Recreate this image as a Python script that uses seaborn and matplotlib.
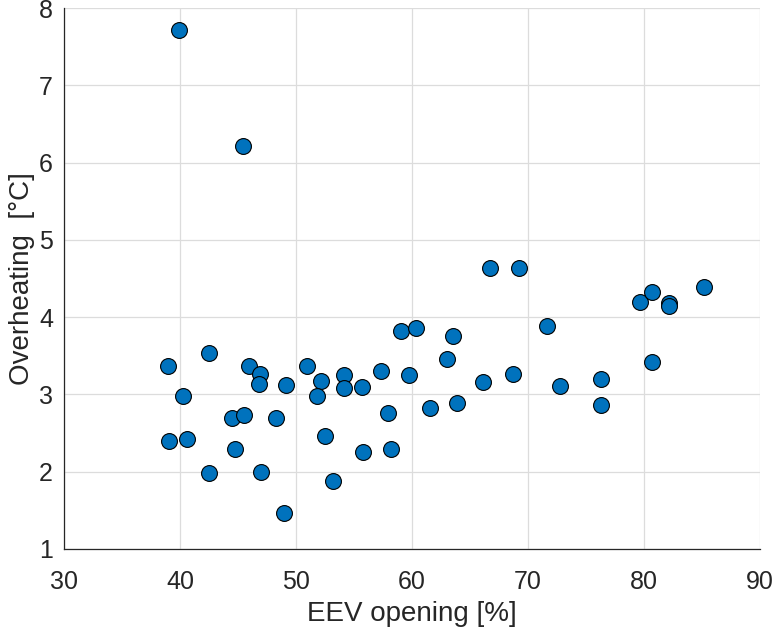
import matplotlib
matplotlib.use("Agg")
import matplotlib.pyplot as plt
import seaborn as sns
import pandas as pd

eev_opening = [39.93, 45.46, 38.95, 42.46, 45.98, 46.93, 46.78, 49.17, 50.96, 52.13,
               51.82, 40.25, 44.48, 45.54, 48.31, 39.07, 40.60, 44.77, 52.48, 42.46,
               46.95, 53.17, 49.00, 66.76, 69.20, 59.08, 60.34, 63.56, 63.04, 57.35,
               54.12, 59.71, 54.12, 55.67, 66.15, 68.74, 57.89, 61.58, 63.90, 55.76,
               58.18, 71.64, 72.80, 76.29, 76.29, 79.68, 80.69, 82.16, 82.16, 85.21,
               80.72]
overheating = [7.71, 6.21, 3.37, 3.54, 3.37, 3.27, 3.14, 3.12, 3.37, 3.18,
               2.98, 2.98, 2.70, 2.73, 2.70, 2.40, 2.42, 2.30, 2.46, 1.98,
               2.00, 1.88, 1.47, 4.63, 4.64, 3.82, 3.86, 3.76, 3.46, 3.30,
               3.25, 3.25, 3.08, 3.09, 3.16, 3.27, 2.76, 2.82, 2.89, 2.26,
               2.29, 3.89, 3.11, 3.20, 2.86, 4.20, 4.33, 4.18, 4.14, 4.39,
               3.42]
x_ticks = [30, 40, 50, 60, 70, 80, 90]
y_ticks = [1, 2, 3, 4, 5, 6, 7, 8]

df = pd.DataFrame({"EEV opening [%]": eev_opening, "Overheating  [°C]": overheating})

sns.set_style("white")
plt.rcParams["font.family"] = ["Liberation Sans", "DejaVu Sans"]

fig = plt.figure(figsize=(7.73, 6.33), dpi=100)
ax = fig.add_axes([64 / 773, 84 / 633, 696 / 773, 541 / 633])

sns.scatterplot(data=df, x="EEV opening [%]", y="Overheating  [°C]", ax=ax,
                s=130, color="#0072BD", edgecolor="black", linewidth=0.8, zorder=3)

ax.set_xlim(30, 90)
ax.set_ylim(1, 8)
ax.set_xticks(x_ticks)
ax.set_yticks(y_ticks)
ax.grid(True, color="#dcdcdc", linewidth=0.9, zorder=0)
ax.set_axisbelow(True)
for side in ["top", "right"]:
    ax.spines[side].set_visible(False)
for side in ["left", "bottom"]:
    ax.spines[side].set_color("#262626")
    ax.spines[side].set_linewidth(0.9)
ax.tick_params(direction="in", length=5, width=0.9, color="#262626",
               labelsize=18, labelcolor="#262626")
ax.tick_params(axis="x", pad=15)
ax.tick_params(axis="y", pad=8)
ax.set_xlabel("EEV opening [%]", fontsize=20, color="#262626", labelpad=5)
ax.set_ylabel("Overheating  [°C]", fontsize=20, color="#262626", labelpad=3)

fig.savefig("out.png", dpi=100)
